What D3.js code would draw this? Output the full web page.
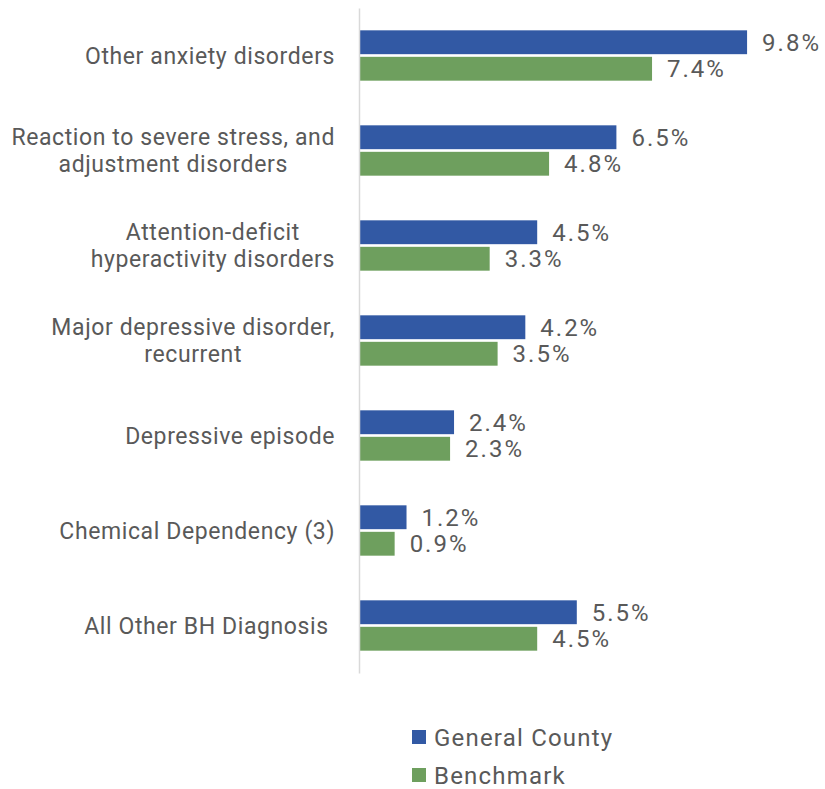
<!DOCTYPE html>
<html>
<head>
<meta charset="utf-8">
<script src="https://cdn.jsdelivr.net/npm/d3@7/dist/d3.min.js"></script>
<style>
  html, body { margin: 0; padding: 0; background: #fff; }
  svg text { font-family: Roboto, "Noto Sans", sans-serif; fill: #595959; }
</style>
</head>
<body>
<svg id="chart" width="825" height="789"></svg>
<script>
// Behavioural-health diagnosis shares, county vs. benchmark
const categories = [
  ["Other anxiety disorders"],
  ["Reaction to severe stress, and", "adjustment disorders"],
  ["Attention-deficit", "hyperactivity disorders"],
  ["Major depressive disorder,", "recurrent"],
  ["Depressive episode"],
  ["Chemical Dependency (3)"],
  ["All Other BH Diagnosis "]
];
const seriesNames = ["General County", "Benchmark"];
const generalCounty = [9.8, 6.5, 4.5, 4.2, 2.4, 1.2, 5.5];
const benchmark = [7.4, 4.8, 3.3, 3.5, 2.3, 0.9, 4.5];
const colors = ["#3259a4", "#6e9f5e"];

const svg = d3.select("#chart");
const keys = categories.map((c, i) => "c" + i);
const seriesValues = [generalCounty, benchmark];

const x = d3.scaleLinear().domain([0, 10]).range([359, 755]);
const y = d3.scaleBand().domain(keys).range([8, 673]).paddingInner(0.47).paddingOuter(0.235);
const ys = d3.scaleBand().domain(seriesNames).range([0, y.bandwidth()]).paddingInner(0.1);

// bars
const groups = svg.append("g").selectAll("g")
  .data(keys)
  .join("g")
  .attr("transform", k => `translate(0,${y(k)})`);

groups.each(function (k, i) {
  const g = d3.select(this);
  seriesNames.forEach((s, si) => {
    const v = seriesValues[si][i];
    g.append("rect")
      .attr("x", x(0))
      .attr("y", ys(s))
      .attr("width", x(v) - x(0))
      .attr("height", ys.bandwidth())
      .attr("fill", colors[si]);
    g.append("text")
      .attr("x", x(v) + 15)
      .attr("y", ys(s) + ys.bandwidth() / 2)
      .attr("dy", "0.36em")
      .style("font-size", "24px")
      .style("letter-spacing", "2px")
      .text(v.toFixed(1) + "%");
  });
});

// category axis
const axis = svg.append("g")
  .attr("transform", `translate(${x(0)},0)`)
  .call(d3.axisLeft(y).tickSize(0).tickSizeOuter(0).tickFormat(""));
axis.select(".domain").attr("stroke", "#d9d9d9").attr("stroke-width", 1.5);

// multi-line category labels: block right-aligned, lines centred within it
const labelRight = 335;
const lineH = 27;
keys.forEach((k, i) => {
  const lines = categories[i];
  const cy = y(k) + y.bandwidth() / 2;
  const t = svg.append("text")
    .style("font-size", "23px")
    .style("letter-spacing", "0.6px")
    .style("white-space", "pre")
    .attr("text-anchor", "middle");
  lines.forEach((ln, li) => {
    t.append("tspan")
      .attr("x", 0)
      .attr("y", cy + (li - (lines.length - 1) / 2) * lineH)
      .attr("dy", "0.36em")
      .text(ln);
  });
  const w = t.node().getBBox().width;
  t.selectAll("tspan").attr("x", labelRight - w / 2);
});

// legend
const legend = svg.append("g").selectAll("g")
  .data(seriesNames)
  .join("g")
  .attr("transform", (d, i) => `translate(412,${730 + i * 38})`);
legend.append("rect").attr("width", 14).attr("height", 14).attr("fill", (d, i) => colors[i]);
legend.append("text")
  .attr("x", 22)
  .attr("y", 7)
  .attr("dy", "0.36em")
  .style("font-size", "24px")
  .style("letter-spacing", "1.2px")
  .text(d => d);
</script>
</body>
</html>
